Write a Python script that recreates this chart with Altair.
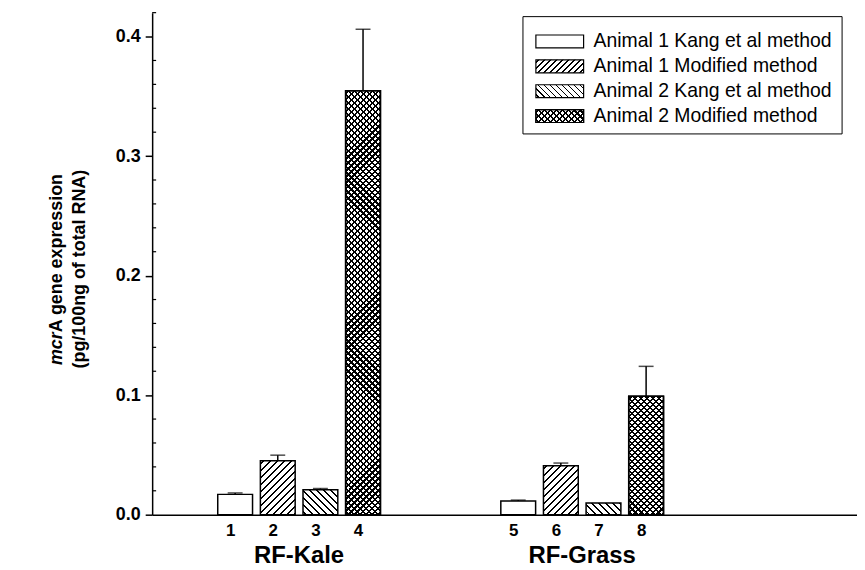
import altair as alt
import pandas as pd

# ---------------- data ----------------
labels = ["1", "2", "3", "4", "5", "6", "7", "8"]
groups = ["RF-Kale", "RF-Kale", "RF-Kale", "RF-Kale",
          "RF-Grass", "RF-Grass", "RF-Grass", "RF-Grass"]
series_names = ["Animal 1 Kang et al method", "Animal 1 Modified method",
                "Animal 2 Kang et al method", "Animal 2 Modified method"]
bar_series = [0, 1, 2, 3, 0, 1, 2, 3]
values = [0.0170, 0.0451, 0.0208, 0.3546, 0.0114, 0.0410, 0.0097, 0.0991]
errors = [0.0012, 0.0047, 0.0011, 0.0515, 0.0008, 0.0022, 0.0, 0.0250]
y_ticks = [0.0, 0.1, 0.2, 0.3, 0.4]
y_minor = [0.02, 0.04, 0.06, 0.08, 0.12, 0.14, 0.16, 0.18, 0.22, 0.24,
           0.26, 0.28, 0.32, 0.34, 0.36, 0.38, 0.42]

# ---------------- layout / style ----------------
FONT = "Liberation Sans"
W, H = 709, 505
YMAX = 0.42
PX_PER = H / YMAX
BAR_W = 35
GROUP_GAP = 3.64
X_DOMAIN = [-1.83, 14.47]

positions = [(i % 4) + (i // 4) * (3 + GROUP_GAP) for i in range(8)]

df = pd.DataFrame({
    "idx": list(range(8)),
    "label": labels,
    "group": groups,
    "series": [series_names[s] for s in bar_series],
    "pos": positions,
    "val": values,
    "err": errors,
})
df["top"] = df["val"] + df["err"]

grp_df = pd.DataFrame({"group": ["RF-Kale", "RF-Grass"]})
grp_df["pos"] = [sum(positions[0:4]) / 4, sum(positions[4:8]) / 4]


def stripe_gradient(w, h, period, thick, direction, bg, ink):
    L = w + h
    m = L / (w * w + h * h)
    if direction == "/":
        x1, y1, x2, y2 = 0, 0, w * m, h * m
    else:
        x1, y1, x2, y2 = 0, 1, w * m, 1 - h * m
    stops = [{"offset": 0, "color": bg}]
    half = thick / 2.0
    c = period / 2.0
    while c - half < L:
        a = round(max(0.0, (c - half) / L), 6)
        b = round(min(1.0, (c + half) / L), 6)
        stops += [{"offset": a, "color": bg}, {"offset": a, "color": ink},
                  {"offset": b, "color": ink}, {"offset": b, "color": bg}]
        c += period
    stops.append({"offset": 1, "color": bg})
    return {"gradient": "linear", "x1": round(x1, 6), "y1": round(y1, 6),
            "x2": round(x2, 6), "y2": round(y2, 6), "stops": stops}


def base_fill(series, w, h, period=7):
    if series == 1:
        return stripe_gradient(w, h, period, 1.7, "/", "white", "black")
    if series == 2:
        return stripe_gradient(w, h, period, 1.7, "\\", "white", "black")
    if series == 3:
        return stripe_gradient(w, h, 6, 2.2, "/", "white", "black")
    return "white"


def cross_fill(w, h):
    return stripe_gradient(w, h, 6, 2.2, "\\", "rgba(0,0,0,0)", "black")


xscale = alt.Scale(domain=X_DOMAIN, nice=False, zero=False)
yscale = alt.Scale(domain=[0, YMAX], nice=False)

label_expr = ""
for p, l in zip(positions, labels):
    label_expr += f"abs(datum.value - {p}) < 0.01 ? '{l}' : "
label_expr += "''"

xaxis = alt.Axis(values=positions, labelExpr=label_expr, title=None, grid=False,
                 ticks=False, tickSize=0, domainColor="black", domainWidth=1.5,
                 labelFont=FONT, labelFontSize=17, labelFontWeight="bold",
                 labelColor="black", labelPadding=8, labelOffset=-5,
                 labelOverlap=False, labelFlush=False)
yaxis = alt.Axis(values=y_ticks, format=".1f", title=None, grid=False,
                 domainColor="black", domainWidth=1.5, tickColor="black",
                 tickWidth=1.5, tickSize=7, labelFont=FONT, labelFontSize=18,
                 labelFontWeight="bold", labelColor="black", labelPadding=5)


def X(field):
    return alt.X(field, scale=xscale, axis=xaxis)


def Y(field):
    return alt.Y(field, scale=yscale, axis=yaxis)


# bars
conds = []
for i in range(8):
    f = base_fill(bar_series[i], BAR_W, values[i] * PX_PER)
    if f != "white":
        conds.append({"test": f"datum.idx === {i}", "value": f})
bars = alt.Chart(df).mark_bar(width=BAR_W, stroke="black", strokeWidth=1.5).encode(
    x=X("pos:Q"), y=Y("val:Q"),
    fill={"condition": conds, "value": "white"},
)

cross_ids = [i for i in range(8) if bar_series[i] == 3]
cconds = [{"test": f"datum.idx === {i}", "value": cross_fill(BAR_W, values[i] * PX_PER)}
          for i in cross_ids]
cross = alt.Chart(df).transform_filter(
    alt.FieldOneOfPredicate(field="idx", oneOf=cross_ids)
).mark_bar(width=BAR_W, stroke="black", strokeWidth=1.5).encode(
    x=X("pos:Q"), y=Y("val:Q"),
    fill={"condition": cconds, "value": "rgba(0,0,0,0)"},
)

err_rule = alt.Chart(df).transform_filter("datum.err > 0").mark_rule(
    color="black", strokeWidth=1.5).encode(x=X("pos:Q"), y=Y("val:Q"), y2="top:Q")
err_cap = alt.Chart(df).transform_filter("datum.err > 0").mark_tick(
    orient="horizontal", size=15, thickness=1.5, color="black").encode(
    x=X("pos:Q"), y=Y("top:Q"))

minor = alt.Chart(pd.DataFrame({"t": y_minor})).mark_rule(
    color="black", strokeWidth=1.2).encode(
    y=Y("t:Q"), x=alt.value(0), x2=alt.value(4))

grp_text = alt.Chart(grp_df).mark_text(
    font=FONT, fontSize=24, fontWeight="bold", color="black",
    baseline="alphabetic", align="center").encode(
    x=X("pos:Q"), y=alt.value(554), text="group:N")

# legend (drawn by hand to show hatch patterns)
one = pd.DataFrame({"a": [0]})
LEG_X0, LEG_X1, LEG_Y0, LEG_Y1 = 373, 694, 4, 122
SW_X0, SW_X1, SW_H = 386, 434, 13
TXT_X = 444
rows = [29, 54, 79, 104]

legend_layers = [alt.Chart(one).mark_rect(fill="white", stroke="black", strokeWidth=1).encode(
    x=alt.value(LEG_X0), x2=alt.value(LEG_X1), y=alt.value(LEG_Y0), y2=alt.value(LEG_Y1))]
for s, yc in enumerate(rows):
    fill = base_fill(s, SW_X1 - SW_X0, SW_H, period=6)
    legend_layers.append(alt.Chart(one).mark_rect(fill=fill, stroke="black", strokeWidth=1.2).encode(
        x=alt.value(SW_X0), x2=alt.value(SW_X1),
        y=alt.value(yc - SW_H / 2), y2=alt.value(yc + SW_H / 2)))
    if s == 3:
        legend_layers.append(alt.Chart(one).mark_rect(
            fill=cross_fill(SW_X1 - SW_X0, SW_H), stroke="black", strokeWidth=1.2).encode(
            x=alt.value(SW_X0), x2=alt.value(SW_X1),
            y=alt.value(yc - SW_H / 2), y2=alt.value(yc + SW_H / 2)))
    legend_layers.append(alt.Chart(pd.DataFrame({"series": [series_names[s]]})).mark_text(
        font=FONT, fontSize=19.5, color="black", align="left", baseline="middle").encode(
        x=alt.value(TXT_X), y=alt.value(yc), text="series:N"))

# y title (two lines, "mcr" in italics)
TFS = 18
w_mcr = 1.834 * TFS
w_line1 = 10.726 * TFS
yc_title = 258
split = yc_title + w_line1 / 2 - w_mcr
t1a = alt.Chart(pd.DataFrame({"t": ["mcr"]})).mark_text(
    font=FONT, fontSize=TFS, fontWeight="bold", fontStyle="italic", angle=270,
    align="right", baseline="middle", color="black").encode(
    x=alt.value(-96), y=alt.value(split), text="t:N")
t1b = alt.Chart(pd.DataFrame({"t": ["A gene expression"]})).mark_text(
    font=FONT, fontSize=TFS, fontWeight="bold", angle=270,
    align="left", baseline="middle", color="black").encode(
    x=alt.value(-96), y=alt.value(split), text="t:N")
t2 = alt.Chart(pd.DataFrame({"t": ["(pg/100ng of total RNA)"]})).mark_text(
    font=FONT, fontSize=TFS, fontWeight="bold", angle=270,
    align="center", baseline="middle", color="black").encode(
    x=alt.value(-73), y=alt.value(yc_title), text="t:N")

chart = alt.layer(
    minor, bars, cross, err_rule, err_cap, grp_text, *legend_layers, t1a, t1b, t2
).properties(
    width=W, height=H, autosize="none",
    padding={"left": 145, "top": 3, "right": 0, "bottom": 62},
    background="white",
).configure_view(stroke=None)

chart.save("out.html", embed_options={"renderer": "svg", "actions": False})
